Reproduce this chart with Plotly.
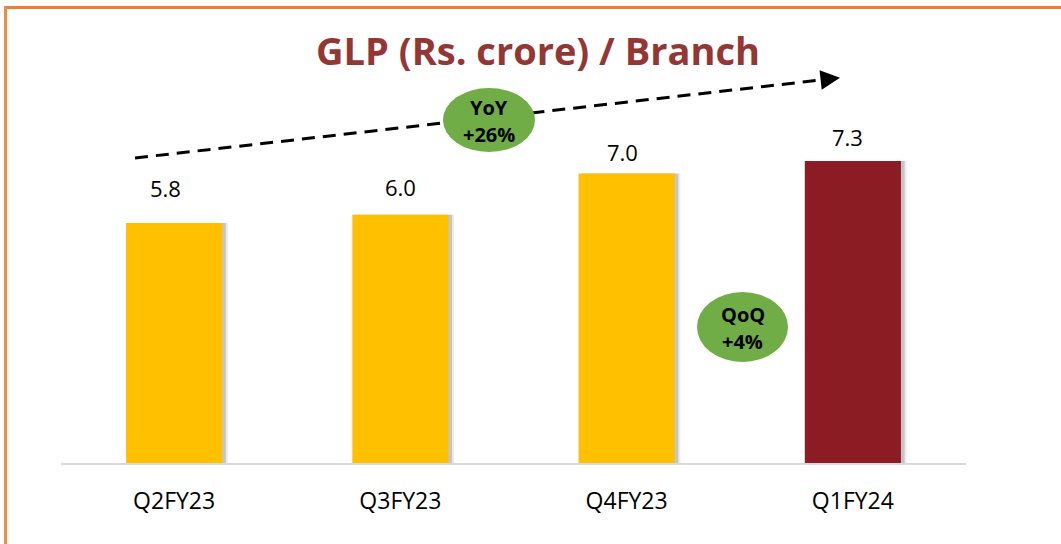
import plotly.graph_objects as go

# ---- data ----
categories = ["Q2FY23", "Q3FY23", "Q4FY23", "Q1FY24"]
values = [5.8, 6.0, 7.0, 7.3]
value_labels = ["5.8", "6.0", "7.0", "7.3"]
bar_colors = ["#FFC000", "#FFC000", "#FFC000", "#8B1C24"]
title_text = "GLP (Rs. crore) / Branch"
yoy_lines = ["YoY", "+26%"]
qoq_lines = ["QoQ", "+4%"]

# ---- layout geometry (pixels) ----
W, H = 1061, 544
L, R, T, B = 61, 966, 8, 463
YMAX = 11.0

def px_x(p):
    return (p - L) / (R - L)

def px_y(p):
    return (B - p) / (B - T)

def dx(p):  # pixel x -> data x
    return (p - L) / ((R - L) / 4) - 0.5

def dy(p):  # pixel y -> data y
    return (B - p) / ((B - T) / YMAX)

font_family = "'Open Sans', Lato, sans-serif"

fig = go.Figure()

# shadows
fig.add_trace(go.Bar(x=categories, y=values, width=0.43, offset=-0.2125 + 0.02,
                     marker=dict(color="rgba(0,0,0,0.08)", line_width=0),
                     hoverinfo="skip", showlegend=False))
fig.add_trace(go.Bar(x=categories, y=values, width=0.43, offset=-0.2125 + 0.011,
                     marker=dict(color="rgba(0,0,0,0.16)", line_width=0),
                     hoverinfo="skip", showlegend=False))
# bars
fig.add_trace(go.Bar(x=categories, y=values, width=0.425, offset=-0.2125,
                     marker=dict(color=bar_colors, line_width=0),
                     showlegend=False))

# value labels
label_shift = [35, 28, 21, 24]
label_xshift = [-9, 0, -4, -5]
for i, (c, v, t) in enumerate(zip(categories, values, value_labels)):
    fig.add_annotation(x=c, y=v, text=t, showarrow=False, yanchor="middle",
                       yshift=label_shift[i], xshift=label_xshift[i],
                       font=dict(family=font_family, size=22, color="#000000"))

# dashed trend arrow
fig.add_shape(type="line", x0=dx(135), y0=dy(158), x1=dx(828), y1=dy(79.2), xref="x", yref="y",
              line=dict(color="black", width=3, dash="13px,8px"))
fig.add_annotation(x=dx(840), y=dy(77.8), ax=dx(824), ay=dy(79.6), xref="x", yref="y",
                   axref="x", ayref="y", text="", showarrow=True, arrowhead=2,
                   arrowsize=1.3, arrowwidth=3, arrowcolor="black")

# ellipses
def bubble(x0, x1, y0, y1, lines):
    fig.add_shape(type="circle", x0=dx(x0), x1=dx(x1), y0=dy(y1), y1=dy(y0),
                  xref="x", yref="y", fillcolor="#70AD47", line=dict(width=0))
    cx = (x0 + x1) / 2
    cy = (y0 + y1) / 2
    for k, s in enumerate(lines):
        fig.add_annotation(x=dx(cx), y=dy(cy - 13 + 27 * k), text="<b>" + s + "</b>",
                           showarrow=False, yanchor="middle",
                           font=dict(family=font_family, size=20, color="#000000"))

bubble(443, 535, 88, 152, yoy_lines)
bubble(697, 788, 292, 362, qoq_lines)

# orange border (top and left)
fig.add_shape(type="line", xref="paper", yref="paper", x0=px_x(4), x1=px_x(1062),
              y0=px_y(7.5), y1=px_y(7.5), line=dict(color="#ED7D31", width=3))
fig.add_shape(type="line", xref="paper", yref="paper", x0=px_x(5.5), x1=px_x(5.5),
              y0=px_y(6), y1=px_y(545), line=dict(color="#F08A45", width=3))

fig.update_layout(
    width=W, height=H,
    margin=dict(l=L, r=W - R, t=T, b=H - B, pad=0),
    paper_bgcolor="white", plot_bgcolor="white",
    barmode="overlay",
    title=dict(text="<b>" + title_text + "</b>", x=538 / W, xanchor="center",
               y=1 - 52 / H, yanchor="middle", yref="container",
               font=dict(family=font_family, size=38, color="#943634")),
    xaxis=dict(range=[-0.5, 3.5], showline=True, linecolor="#D9D9D9", linewidth=2,
               showgrid=False, zeroline=False, ticks="", ticklabelstandoff=16,
               tickfont=dict(family=font_family, size=23, color="#000000")),
    yaxis=dict(range=[0, YMAX], visible=False, showgrid=False, zeroline=False),
)

fig.write_html("out.html", config={"displayModeBar": False},
               post_script="document.body.style.margin='0';")
